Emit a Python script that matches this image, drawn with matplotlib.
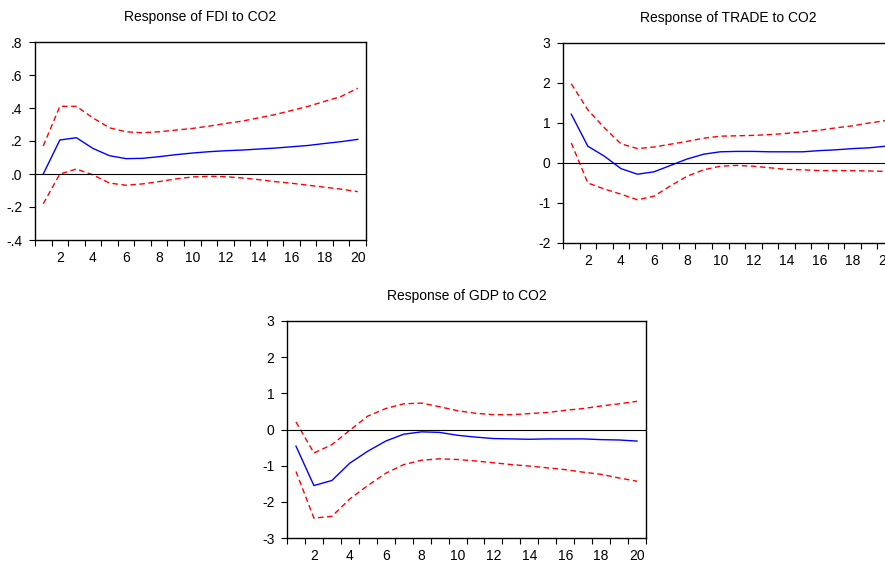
import numpy as np
import matplotlib.pyplot as plt
from matplotlib.ticker import FixedLocator, NullFormatter

plt.rcParams['font.family'] = ['Liberation Sans', 'DejaVu Sans']

periods = list(range(1, 21))

fdi_resp = [0.0, 0.206, 0.22, 0.155, 0.111, 0.093, 0.095, 0.105, 0.117, 0.127,
            0.135, 0.141, 0.145, 0.151, 0.157, 0.165, 0.173, 0.185, 0.196, 0.21]
fdi_upper = [0.17, 0.41, 0.41, 0.34, 0.28, 0.256, 0.25, 0.256, 0.266, 0.276,
             0.29, 0.306, 0.32, 0.34, 0.36, 0.385, 0.41, 0.44, 0.47, 0.52]
fdi_lower = [-0.18, 0.0, 0.03, -0.005, -0.055, -0.068, -0.06, -0.046, -0.03, -0.018,
             -0.014, -0.016, -0.024, -0.034, -0.046, -0.056, -0.068, -0.08, -0.092, -0.107]

trade_resp = [1.22, 0.42, 0.17, -0.14, -0.28, -0.22, -0.06, 0.10, 0.22, 0.28,
              0.29, 0.29, 0.28, 0.28, 0.28, 0.31, 0.33, 0.36, 0.38, 0.42]
trade_upper = [1.98, 1.33, 0.88, 0.48, 0.36, 0.40, 0.47, 0.54, 0.62, 0.67,
               0.68, 0.69, 0.71, 0.74, 0.78, 0.82, 0.88, 0.93, 1.0, 1.06]
trade_lower = [0.5, -0.5, -0.65, -0.78, -0.92, -0.83, -0.57, -0.33, -0.17, -0.08,
               -0.06, -0.08, -0.12, -0.16, -0.17, -0.19, -0.19, -0.19, -0.2, -0.21]

gdp_resp = [-0.46, -1.55, -1.41, -0.93, -0.6, -0.32, -0.13, -0.065, -0.08, -0.16,
            -0.21, -0.25, -0.26, -0.27, -0.26, -0.26, -0.26, -0.28, -0.29, -0.32]
gdp_upper = [0.21, -0.65, -0.42, -0.02, 0.37, 0.58, 0.71, 0.73, 0.63, 0.52,
             0.45, 0.41, 0.41, 0.44, 0.47, 0.53, 0.58, 0.65, 0.71, 0.78]
gdp_lower = [-1.16, -2.45, -2.4, -1.92, -1.55, -1.21, -0.97, -0.85, -0.81, -0.83,
             -0.87, -0.92, -0.97, -1.01, -1.06, -1.11, -1.18, -1.24, -1.34, -1.43]

fdi_yticks = [-0.4, -0.2, 0.0, 0.2, 0.4, 0.6, 0.8]
fdi_ylabels = ['-.4', '-.2', '.0', '.2', '.4', '.6', '.8']
trade_yticks = [-2, -1, 0, 1, 2, 3]
gdp_yticks = [-3, -2, -1, 0, 1, 2, 3]


def irf_panel(ax, title, resp, upper, lower, yticks, ylabels, ylim):
    ax.plot(periods, resp, color='#0000ff', lw=1.0)
    ax.plot(periods, upper, color='#ff0000', lw=1.0, ls=(0, (4, 2.5)))
    ax.plot(periods, lower, color='#ff0000', lw=1.0, ls=(0, (4, 2.5)))
    ax.axhline(0, color='black', lw=0.8)
    ax.set_xlim(0.5, 20.5)
    ax.set_ylim(*ylim)
    ax.set_yticks(yticks)
    ax.set_yticklabels(ylabels)
    # ticks between periods, labels at even periods
    ax.xaxis.set_major_locator(FixedLocator(np.arange(0.5, 21, 1)))
    ax.xaxis.set_major_formatter(NullFormatter())
    ax.set_xticks(range(2, 21, 2), minor=True)
    ax.set_xticklabels([str(i) for i in range(2, 21, 2)], minor=True)
    ax.tick_params(axis='x', which='minor', length=0, pad=8, labelsize=10)
    ax.tick_params(axis='x', which='major', length=4, width=0.8, direction='out')
    ax.tick_params(axis='y', length=4, width=0.8, direction='out', labelsize=10, pad=5)
    for s in ax.spines.values():
        s.set_linewidth(1.0)
    ax.set_title(title, fontsize=10, pad=15)


fig = plt.figure(figsize=(8.85, 5.64), dpi=100)

ax1 = fig.add_axes([35 / 885, 1 - 240 / 564, 331 / 885, 198 / 564])
irf_panel(ax1, 'Response of FDI to CO2', fdi_resp, fdi_upper, fdi_lower,
          fdi_yticks, fdi_ylabels, (-0.4, 0.8))

ax2 = fig.add_axes([563 / 885, 1 - 243 / 564, 331 / 885, 200 / 564])
irf_panel(ax2, 'Response of TRADE to CO2', trade_resp, trade_upper, trade_lower,
          trade_yticks, [str(t) for t in trade_yticks], (-2, 3))

ax3 = fig.add_axes([287 / 885, 1 - 538 / 564, 359 / 885, 217 / 564])
irf_panel(ax3, 'Response of GDP to CO2', gdp_resp, gdp_upper, gdp_lower,
          gdp_yticks, [str(t) for t in gdp_yticks], (-3, 3))

fig.savefig('out.png', dpi=100)
